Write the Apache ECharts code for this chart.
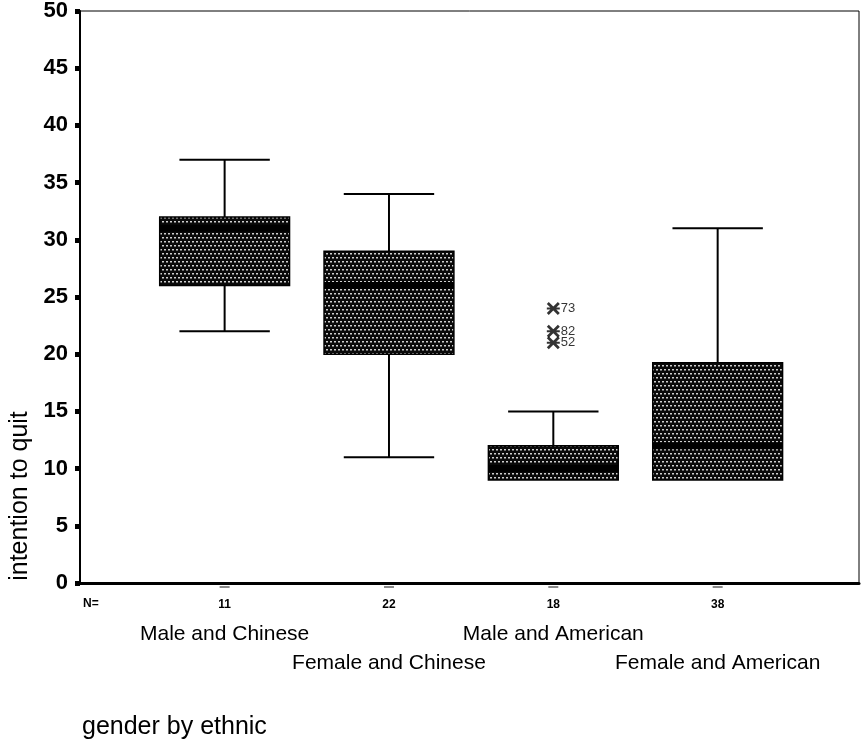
<!DOCTYPE html>
<html>
<head>
<meta charset="utf-8">
<script src="https://cdn.jsdelivr.net/npm/echarts@6.0.0/dist/echarts.min.js"></script>
<style>
html,body{margin:0;padding:0;background:#fff;}
#chart{width:861px;height:748px;}
</style>
</head>
<body>
<div id="chart"></div>
<script>
// ---- data ----
const categories = ['Male and Chinese', 'Female and Chinese', 'Male and American', 'Female and American'];
const nCounts = [11, 22, 18, 38];
const whiskerLow = [22, 11, 9, 9];
const quartile1 = [26, 20, 9, 9];
const medians = [31, 26, 10, 12];
const quartile3 = [32, 29, 12, 19.25];
const whiskerHigh = [37, 34, 15, 31];
const outlierGroup = [2, 2, 2];
const outlierValues = [24, 22, 21];
const outlierIds = ['73', '82', '52'];
const yTicks = [0, 5, 10, 15, 20, 25, 30, 35, 40, 45, 50];

// ---- pattern for boxes ----
const pat = document.createElement('canvas');
pat.width = 4; pat.height = 8;
const pc = pat.getContext('2d');
pc.fillStyle = '#0a0a0a'; pc.fillRect(0, 0, 4, 8);
pc.fillStyle = '#cfcfcf';
pc.fillRect(0, 1, 2, 1.5);
pc.fillRect(2, 5, 2, 1.5);

const boxData = categories.map((c, i) => [i, whiskerLow[i], quartile1[i], medians[i], quartile3[i], whiskerHigh[i], nCounts[i]]);
const outlierData = outlierGroup.map((g, i) => ({ value: [g, outlierValues[i]], id: outlierIds[i] }));

const FONT = '"Liberation Sans", Arial, sans-serif';

function renderBox(params, api) {
  const i = api.value(0);
  const mn = api.value(1), q1 = api.value(2), md = api.value(3), q3 = api.value(4), mx = api.value(5);
  const n = api.value(6);
  const unit = api.size([1, 0])[0];
  const bw = unit * 0.79;
  const cw = unit * 0.55;
  const pMin = api.coord([i, mn]), pQ1 = api.coord([i, q1]), pMd = api.coord([i, md]);
  const pQ3 = api.coord([i, q3]), pMax = api.coord([i, mx]), p0 = api.coord([i, 0]);
  const cx = pMd[0];
  const children = [];
  const ls = { stroke: '#000', lineWidth: 2 };
  if (mx > q3) {
    children.push({ type: 'line', shape: { x1: cx, y1: pQ3[1], x2: cx, y2: pMax[1] }, style: ls });
    children.push({ type: 'line', shape: { x1: cx - cw / 2, y1: pMax[1], x2: cx + cw / 2, y2: pMax[1] }, style: ls });
  }
  if (mn < q1) {
    children.push({ type: 'line', shape: { x1: cx, y1: pQ1[1], x2: cx, y2: pMin[1] }, style: ls });
    children.push({ type: 'line', shape: { x1: cx - cw / 2, y1: pMin[1], x2: cx + cw / 2, y2: pMin[1] }, style: ls });
  }
  children.push({
    type: 'rect',
    shape: { x: cx - bw / 2, y: pQ3[1], width: bw, height: pQ1[1] - pQ3[1] },
    style: { fill: { image: pat, repeat: 'repeat' }, stroke: '#000', lineWidth: 1.5 }
  });
  children.push({ type: 'line', shape: { x1: cx - bw / 2, y1: pMd[1], x2: cx + bw / 2, y2: pMd[1] }, style: { stroke: '#000', lineWidth: 7 } });
  // small tick under axis
  children.push({ type: 'line', shape: { x1: cx - 5, y1: p0[1] + 4, x2: cx + 5, y2: p0[1] + 4 }, style: { stroke: '#888', lineWidth: 2 } });
  // N count
  children.push({ type: 'text', x: cx, y: p0[1] + 22, style: { text: String(n), fill: '#000', font: 'bold 12px ' + FONT, align: 'center', verticalAlign: 'middle' } });
  // category label (staggered)
  children.push({ type: 'text', x: cx, y: p0[1] + (i % 2 === 0 ? 51 : 80), style: { text: categories[i], fill: '#000', font: '21px ' + FONT, align: 'center', verticalAlign: 'middle' } });
  return { type: 'group', children };
}

const chart = echarts.init(document.getElementById('chart'), null, { renderer: 'canvas' });
chart.setOption({
  animation: false,
  backgroundColor: '#fff',
  grid: { left: 80, right: 2, top: 10, bottom: 165, show: true, borderColor: '#000', borderWidth: 1, backgroundColor: 'transparent' },
  xAxis: {
    type: 'value', min: -0.88, max: 3.86,
    axisLine: { show: true, onZero: false, lineStyle: { color: '#000', width: 3 } },
    axisTick: { show: false }, axisLabel: { show: false }, splitLine: { show: false }
  },
  yAxis: {
    type: 'value', min: yTicks[0], max: yTicks[yTicks.length - 1], interval: 5,
    axisLine: { show: true, onZero: false, lineStyle: { color: '#000', width: 2 } },
    axisTick: { show: true, length: 5, lineStyle: { color: '#000', width: 5 } },
    axisLabel: { color: '#000', fontSize: 22, fontWeight: 'bold', fontFamily: FONT, margin: 12 },
    splitLine: { show: false }
  },
  graphic: [
    { type: 'text', left: 83, top: 598, style: { text: 'N=', fill: '#000', font: 'bold 12px ' + FONT } },
    { type: 'text', x: 20, y: 496, rotation: Math.PI / 2, style: { text: 'intention to quit', fill: '#000', font: '25px ' + FONT, align: 'center', verticalAlign: 'middle' } },
    { type: 'text', left: 82, top: 715, style: { text: 'gender by ethnic', fill: '#000', font: '25px ' + FONT } }
  ],
  series: [
    { type: 'custom', renderItem: renderBox, data: boxData, clip: false, encode: { x: 0, y: [1, 2, 3, 4, 5] }, silent: true },
    {
      type: 'scatter',
      data: outlierData,
      symbol: 'path://M0,1.5 L1.5,0 L10,8.5 L8.5,10 Z M8.5,0 L10,1.5 L1.5,10 L0,8.5 Z M0,4.2 L10,4.2 L10,5.8 L0,5.8 Z',
      symbolSize: 13,
      itemStyle: { color: '#000' },
      label: { show: true, position: 'right', distance: 1, formatter: p => p.data.id, color: '#000', fontSize: 13, fontFamily: FONT },
      silent: true
    }
  ]
});
</script>
</body>
</html>
